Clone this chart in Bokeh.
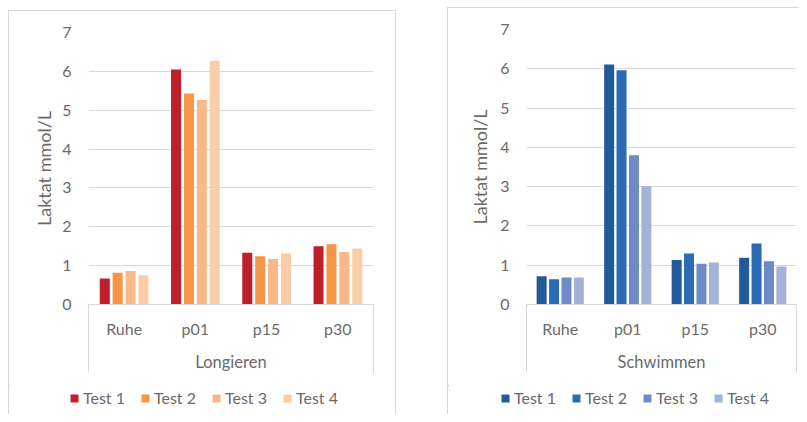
from bokeh.plotting import figure
from bokeh.models import (ColumnDataSource, FixedTicker, Legend, LegendItem, Spacer, Range1d)
from bokeh.layouts import row, column
from bokeh.transform import dodge
from bokeh.embed import file_html
from bokeh.resources import INLINE

categories = ["Ruhe", "p01", "p15", "p30"]
series_names = ["Test 1", "Test 2", "Test 3", "Test 4"]

longieren_test1 = [0.67, 6.05, 1.33, 1.50]
longieren_test2 = [0.82, 5.43, 1.24, 1.55]
longieren_test3 = [0.86, 5.26, 1.17, 1.35]
longieren_test4 = [0.75, 6.27, 1.31, 1.44]

schwimmen_test1 = [0.72, 6.11, 1.13, 1.19]
schwimmen_test2 = [0.64, 5.96, 1.30, 1.55]
schwimmen_test3 = [0.69, 3.80, 1.04, 1.10]
schwimmen_test4 = [0.69, 3.01, 1.07, 0.97]

y_ticks = [0, 1, 2, 3, 4, 5, 6, 7]

red_colors = ["#C01F29", "#F59547", "#F8B887", "#FBCDA6"]
blue_colors = ["#215A9B", "#2B6BB5", "#6E8AC6", "#A3B3D8"]

FONT = "Lato"
TXT = "#6A6A6A"
GRID = "#D9D9D9"
COLS = ["t1", "t2", "t3", "t4"]
N = len(categories)
CENTERS = [i + 0.5 for i in range(N)]


def no_align(fig):
    if "frame_align" in fig.properties():
        fig.frame_align = False


def gline(w, h):
    return Spacer(width=w, height=h, styles={"background-color": GRID})


def bars(p, src, colors, pitch, bar_w):
    offsets = [-1.5 * pitch, -0.5 * pitch, 0.5 * pitch, 1.5 * pitch]
    return [p.vbar(x=dodge("xc", offsets[i]), top=COLS[i], width=bar_w,
                   source=src, color=colors[i], line_color=None) for i in range(4)]


def make_chart(group, src, colors, width, height, mb_left, mb_right, frame_h,
               pitch, bar_w, ylab_standoff):
    p = figure(x_range=Range1d(0, N), y_range=Range1d(0, 7),
               width=width, height=height, output_backend="svg", toolbar_location=None,
               min_border_left=mb_left, min_border_right=mb_right,
               min_border_top=21, min_border_bottom=height - 21 - frame_h)
    no_align(p)
    p.outline_line_color = None
    p.background_fill_color = "white"
    p.border_fill_color = "white"
    bars(p, src, colors, pitch, bar_w)

    # y axis
    p.yaxis.ticker = FixedTicker(ticks=y_ticks)
    p.yaxis.axis_line_color = None
    p.yaxis.major_tick_out = 0
    p.yaxis.major_tick_in = 0
    p.yaxis.minor_tick_out = 0
    p.yaxis.minor_tick_in = 0
    p.yaxis.major_label_standoff = 17
    p.yaxis.major_label_text_font = FONT
    p.yaxis.major_label_text_font_size = "16px"
    p.yaxis.major_label_text_color = TXT
    p.yaxis.axis_label = "Laktat mmol/L"
    p.yaxis.axis_label_text_font = FONT
    p.yaxis.axis_label_text_font_size = "18px"
    p.yaxis.axis_label_text_font_style = "normal"
    p.yaxis.axis_label_text_color = TXT
    p.yaxis.axis_label_standoff = ylab_standoff

    # category axis (Excel style: box edges drawn as minor ticks at the frame edges)
    xa = p.xaxis[0]
    xa.ticker = FixedTicker(ticks=CENTERS, minor_ticks=[0, N])
    xa.major_label_overrides = {c: categories[i] for i, c in enumerate(CENTERS)}
    xa.axis_line_color = GRID
    xa.major_tick_out = 0
    xa.major_tick_in = 0
    xa.minor_tick_out = 68
    xa.minor_tick_in = 0
    xa.minor_tick_line_color = GRID
    xa.major_label_standoff = -54
    xa.major_label_text_font = FONT
    xa.major_label_text_font_size = "16px"
    xa.major_label_text_color = TXT
    xa.axis_label = group
    xa.axis_label_text_font = FONT
    xa.axis_label_text_font_size = "16.5px"
    xa.axis_label_text_font_style = "normal"
    xa.axis_label_text_color = TXT
    xa.axis_label_standoff = 11

    p.xgrid.grid_line_color = None
    p.ygrid.grid_line_color = GRID
    p.ygrid.grid_line_width = 1
    return p


def make_legend(src, colors, width, height, pitch, bar_w, lx):
    # the legend strip only shows the legend; its bar renderers lie outside its ranges
    q = figure(x_range=Range1d(100, 101), y_range=Range1d(-30, -20),
               x_axis_location=None, y_axis_location=None,
               width=width, height=height, output_backend="svg", toolbar_location=None,
               min_border=0, min_border_left=0, min_border_right=0,
               min_border_top=0, min_border_bottom=0)
    no_align(q)
    q.outline_line_color = None
    q.grid.grid_line_color = None
    q.background_fill_color = "white"
    q.border_fill_color = "white"
    rs = bars(q, src, colors, pitch, bar_w)
    legend = Legend(items=[LegendItem(label=series_names[i], renderers=[rs[i]])
                           for i in range(4)],
                    orientation="horizontal", location=(lx, 7),
                    glyph_width=10, glyph_height=10, label_standoff=4, spacing=15,
                    label_text_font=FONT, label_text_font_size="16px",
                    label_text_color=TXT, label_height=10,
                    border_line_color=None, background_fill_alpha=0,
                    padding=0, margin=0)
    q.add_layout(legend)
    return q


src1 = ColumnDataSource(dict(cat=categories, xc=CENTERS, t1=longieren_test1,
                             t2=longieren_test2, t3=longieren_test3, t4=longieren_test4))
src2 = ColumnDataSource(dict(cat=categories, xc=CENTERS, t1=schwimmen_test1,
                             t2=schwimmen_test2, t3=schwimmen_test3, t4=schwimmen_test4))

pitch1, barw1 = 12.9 / 71.25, 10 / 71.25
pitch2, barw2 = 12.4 / 67.5, 10 / 67.5

chart1 = make_chart("Longieren", src1, red_colors, 386, 374, 79, 22, 272,
                    pitch1, barw1, 4)
leg1 = make_legend(src1, red_colors, 386, 29, pitch1, barw1, 60)
chart2 = make_chart("Schwimmen", src2, blue_colors, 351, 377, 78, 3, 275,
                    pitch2, barw2, 6)
leg2 = make_legend(src2, blue_colors, 351, 29, pitch2, barw2, 52)

left_panel = column(Spacer(width=388, height=10), gline(388, 1),
                    row(gline(1, 403), column(row(chart1), row(leg1)), gline(1, 403)))
right_panel = column(Spacer(width=352, height=7), gline(352, 1),
                     row(gline(1, 406), column(row(chart2), row(leg2))))
layout = row(Spacer(width=8, height=1), left_panel, Spacer(width=51, height=1), right_panel)

open("out.html", "w").write(file_html(layout, INLINE))
